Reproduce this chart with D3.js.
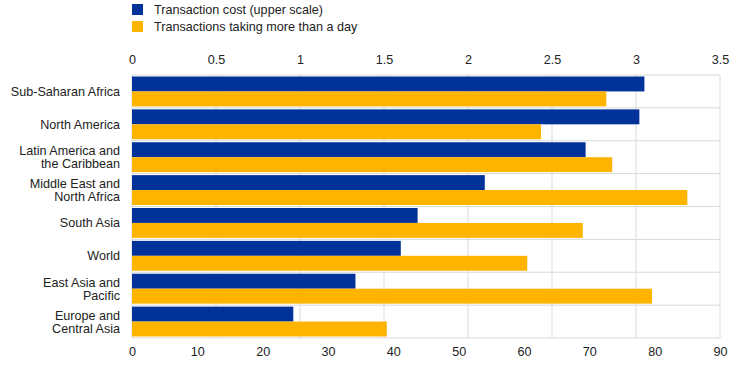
<!DOCTYPE html>
<html>
<head>
<meta charset="utf-8">
<script src="https://cdn.jsdelivr.net/npm/d3@7/dist/d3.min.js"></script>
<style>
  body { margin: 0; background: #fff; }
  text { font-family: "Liberation Sans", Arial, sans-serif; font-size: 12.6px; fill: #222; }
</style>
</head>
<body>
<div id="chart"></div>
<script>
'use strict';

const regions = [
    ['Sub-Saharan Africa'],
    ['North America'],
    ['Latin America and', 'the Caribbean'],
    ['Middle East and', 'North Africa'],
    ['South Asia'],
    ['World'],
    ['East Asia and', 'Pacific'],
    ['Europe and', 'Central Asia']
];
const costValues = [3.05, 3.02, 2.70, 2.10, 1.70, 1.60, 1.33, 0.96];
const slowValues = [72.6, 62.6, 73.5, 85.0, 69.0, 60.5, 79.6, 39.0];
const topTicks = [0, 0.5, 1, 1.5, 2, 2.5, 3, 3.5];
const bottomTicks = [0, 10, 20, 30, 40, 50, 60, 70, 80, 90];
const seriesNames = ['Transaction cost (upper scale)', 'Transactions taking more than a day'];

const width = 744;
const height = 365;
const plotLeft = 132, plotRight = 720, plotTop = 75, plotBottom = 338;
const blue = '#003299';
const orange = '#ffb400';
const gridColor = '#d9d9d9';

const svg = d3.select('#chart').append('svg')
    .attr('width', width)
    .attr('height', height);

const xTop = d3.scaleLinear().domain([0, 3.5]).range([plotLeft, plotRight]);
const xBottom = d3.scaleLinear().domain([0, 90]).range([plotLeft, plotRight]);
const y = d3.scaleBand().domain(d3.range(regions.length)).range([plotTop, plotBottom]);
const inner = d3.scaleBand().domain([0, 1]).range([0, y.bandwidth()]).paddingOuter(0.1);

// grid
const grid = svg.append('g');
grid.selectAll('line.v')
    .data(topTicks)
    .enter().append('line')
    .attr('x1', d => xTop(d)).attr('x2', d => xTop(d))
    .attr('y1', plotTop).attr('y2', plotBottom)
    .attr('stroke', gridColor);
grid.selectAll('line.h')
    .data(d3.range(regions.length + 1))
    .enter().append('line')
    .attr('x1', plotLeft).attr('x2', plotRight)
    .attr('y1', d => plotTop + d * y.step()).attr('y2', d => plotTop + d * y.step())
    .attr('stroke', gridColor);

// bars
const rows = svg.append('g').selectAll('g')
    .data(regions)
    .enter().append('g')
    .attr('transform', (d, i) => `translate(0,${y(i)})`);
rows.append('rect')
    .attr('x', plotLeft)
    .attr('y', inner(0))
    .attr('width', (d, i) => xTop(costValues[i]) - plotLeft)
    .attr('height', inner.bandwidth())
    .attr('fill', blue);
rows.append('rect')
    .attr('x', plotLeft)
    .attr('y', inner(1))
    .attr('width', (d, i) => xBottom(slowValues[i]) - plotLeft)
    .attr('height', inner.bandwidth())
    .attr('fill', orange);

// category labels
rows.append('text')
    .attr('text-anchor', 'end')
    .attr('x', 120)
    .attr('y', d => y.bandwidth() / 2 - (d.length - 1) * 6.5 + 4.5)
    .selectAll('tspan')
    .data(d => d)
    .enter().append('tspan')
    .attr('x', 120)
    .attr('dy', (d, i) => i === 0 ? 0 : 13)
    .text(d => d);

// axes (labels only)
const topAxis = svg.append('g')
    .attr('transform', `translate(0,${plotTop})`)
    .call(d3.axisTop(xTop).tickValues(topTicks).tickFormat(d3.format('')).tickSize(0).tickPadding(11));
const bottomAxis = svg.append('g')
    .attr('transform', `translate(0,${plotBottom})`)
    .call(d3.axisBottom(xBottom).tickValues(bottomTicks).tickSize(0).tickPadding(9));
[topAxis, bottomAxis].forEach(a => {
    a.select('.domain').remove();
    a.selectAll('text').attr('font-size', null).attr('font-family', null);
});

// legend
const legend = svg.append('g').selectAll('g')
    .data(seriesNames)
    .enter().append('g')
    .attr('transform', (d, i) => `translate(132,${4 + i * 17})`);
legend.append('rect')
    .attr('width', 11).attr('height', 11)
    .attr('fill', (d, i) => i === 0 ? blue : orange);
legend.append('text')
    .attr('x', 22).attr('y', 10)
    .text(d => d);
</script>
</body>
</html>
